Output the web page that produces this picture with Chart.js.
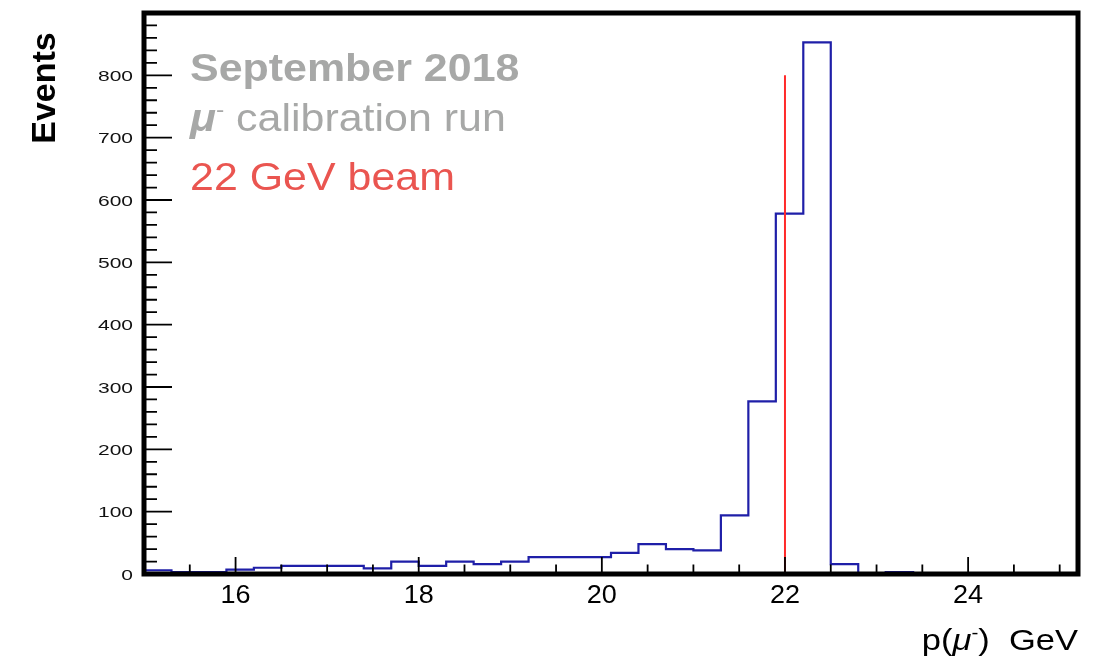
<!DOCTYPE html>
<html>
<head>
<meta charset="utf-8">
<script src="https://cdn.jsdelivr.net/npm/chart.js@4/dist/chart.umd.min.js"></script>
<style>
  html, body { margin: 0; padding: 0; background: #fff; }
  #wrap { width: 1099px; height: 660px; }
  canvas { background: #fff; }
</style>
</head>
<body>
<div id="wrap"><canvas id="hist_chart" width="1099" height="660"></canvas></div>
<script>
// histogram data (bins of 0.3 GeV)
const binEdges = [15.0, 15.3, 15.6, 15.9, 16.2, 16.5, 16.8, 17.1, 17.4, 17.7,
  18.0, 18.3, 18.6, 18.9, 19.2, 19.5, 19.8, 20.1, 20.4, 20.7,
  21.0, 21.3, 21.6, 21.9, 22.2, 22.5, 22.8, 23.1, 23.4, 23.7,
  24.0, 24.3, 24.6, 24.9, 25.2];
const counts = [6, 3, 3, 7, 10, 13, 13, 13, 9, 20,
  13, 20, 16, 20, 27, 27, 27, 34, 48, 40,
  38, 94, 277, 578, 853, 16, 0, 3, 0, 0,
  0, 0, 0, 0];

// beam marker
const beamEnergy = 22;
const beamHeight = 800;

// axis labels
const xLabels = [16, 18, 20, 22, 24];
const yLabels = [0, 100, 200, 300, 400, 500, 600, 700, 800];
const xRange = [15, 25.2];
const yRange = [0, 900];

const ctx = document.getElementById('hist_chart').getContext('2d');

// points at the lower edge of each bin, last edge closes the final bin
const histPoints = binEdges.map((edge, i) => ({
  x: edge,
  y: counts[Math.min(i, counts.length - 1)],
}));

// draw text stretched sideways, built from several pieces
function drawParts(c, parts, x, y, sx, align) {
  let total = 0;
  parts.forEach((p) => {
    c.font = p.font;
    total += c.measureText(p.text).width;
  });
  let start = x;
  if (align === 'right') start = x - total * sx;
  if (align === 'center') start = x - (total * sx) / 2;
  c.save();
  c.translate(start, y);
  c.scale(sx, 1);
  let cx = 0;
  parts.forEach((p) => {
    c.font = p.font;
    c.fillStyle = p.color || '#000';
    c.textBaseline = 'alphabetic';
    c.textAlign = 'left';
    c.fillText(p.text, cx, p.dy || 0);
    cx += c.measureText(p.text).width;
  });
  c.restore();
}

// ROOT style frame, inner ticks and labels
const rootFrame = {
  id: 'rootFrame',
  afterDatasetsDraw(chart) {
    const c = chart.ctx;
    const a = chart.chartArea;
    const x = chart.scales.x;
    const y = chart.scales.y;
    const font = '"Liberation Sans", Arial, sans-serif';

    c.save();
    c.strokeStyle = '#000';
    c.lineWidth = 1.8;
    c.beginPath();
    // x ticks every 0.5, long ones on the labels
    for (let v = 15.5; v < xRange[1]; v += 0.5) {
      const px = x.getPixelForValue(v);
      const len = xLabels.includes(v) ? 17 : 9.5;
      c.moveTo(px, a.bottom);
      c.lineTo(px, a.bottom - len);
    }
    // y ticks every 20
    for (let v = 20; v < yRange[1]; v += 20) {
      const py = y.getPixelForValue(v);
      const len = v % 100 === 0 ? 28 : 13;
      c.moveTo(a.left, py);
      c.lineTo(a.left + len, py);
    }
    c.stroke();

    // frame
    c.lineWidth = 5;
    c.strokeRect(a.left, a.top, a.right - a.left, a.bottom - a.top);
    c.restore();

    // tick labels
    yLabels.forEach((v) => {
      drawParts(c, [{ text: String(v), font: '15px ' + font, color: '#111' }],
        133, y.getPixelForValue(v) + 5.5, 1.4, 'right');
    });
    xLabels.forEach((v) => {
      drawParts(c, [{ text: String(v), font: '25px ' + font }],
        x.getPixelForValue(v), 603, 1.08, 'center');
    });

    // axis titles
    c.save();
    c.translate(55, 88);
    c.rotate(-Math.PI / 2);
    c.font = 'bold 34px ' + font;
    c.fillStyle = '#000';
    c.textAlign = 'center';
    c.textBaseline = 'alphabetic';
    c.fillText('Events', 0, 0);
    c.restore();

    drawParts(c, [
      { text: 'p(', font: '30px ' + font },
      { text: 'μ', font: 'italic 30px ' + font },
      { text: '-', font: '18px ' + font, dy: -11 },
      { text: ')  GeV', font: '30px ' + font },
    ], 1078, 650, 1.15, 'right');

    // run info
    const grey = '#a7a8a7';
    drawParts(c, [{ text: 'September 2018', font: 'bold 38px ' + font, color: grey }],
      190, 81, 1.13, 'left');
    drawParts(c, [
      { text: 'μ', font: 'italic bold 38px ' + font, color: grey },
      { text: '-', font: '22px ' + font, color: grey, dy: -14 },
      { text: ' calibration run', font: '38px ' + font, color: grey },
    ], 190, 131, 1.13, 'left');
    drawParts(c, [{ text: '22 GeV beam', font: '38px ' + font, color: '#ea5550' }],
      190, 190, 1.13, 'left');
  },
};

const histChart = new Chart(ctx, {
  type: 'line',
  data: {
    datasets: [
      {
        label: 'Events',
        data: histPoints,
        stepped: 'before',
        fill: false,
        borderColor: '#1f1fa8',
        borderWidth: 2.2,
        pointRadius: 0,
        order: 1,
      },
      {
        label: 'Beam',
        data: [{ x: beamEnergy, y: 0 }, { x: beamEnergy, y: beamHeight }],
        fill: false,
        borderColor: '#ff2a2a',
        borderWidth: 2,
        pointRadius: 0,
        order: 0,
      },
    ],
  },
  options: {
    responsive: false,
    animation: false,
    devicePixelRatio: 1,
    layout: { padding: { left: 144, top: 13, right: 21, bottom: 86 } },
    plugins: {
      legend: { display: false },
      tooltip: { enabled: false },
    },
    scales: {
      x: { type: 'linear', min: xRange[0], max: xRange[1], display: false },
      y: { type: 'linear', min: yRange[0], max: yRange[1], display: false },
    },
  },
  plugins: [rootFrame],
});
</script>
</body>
</html>
